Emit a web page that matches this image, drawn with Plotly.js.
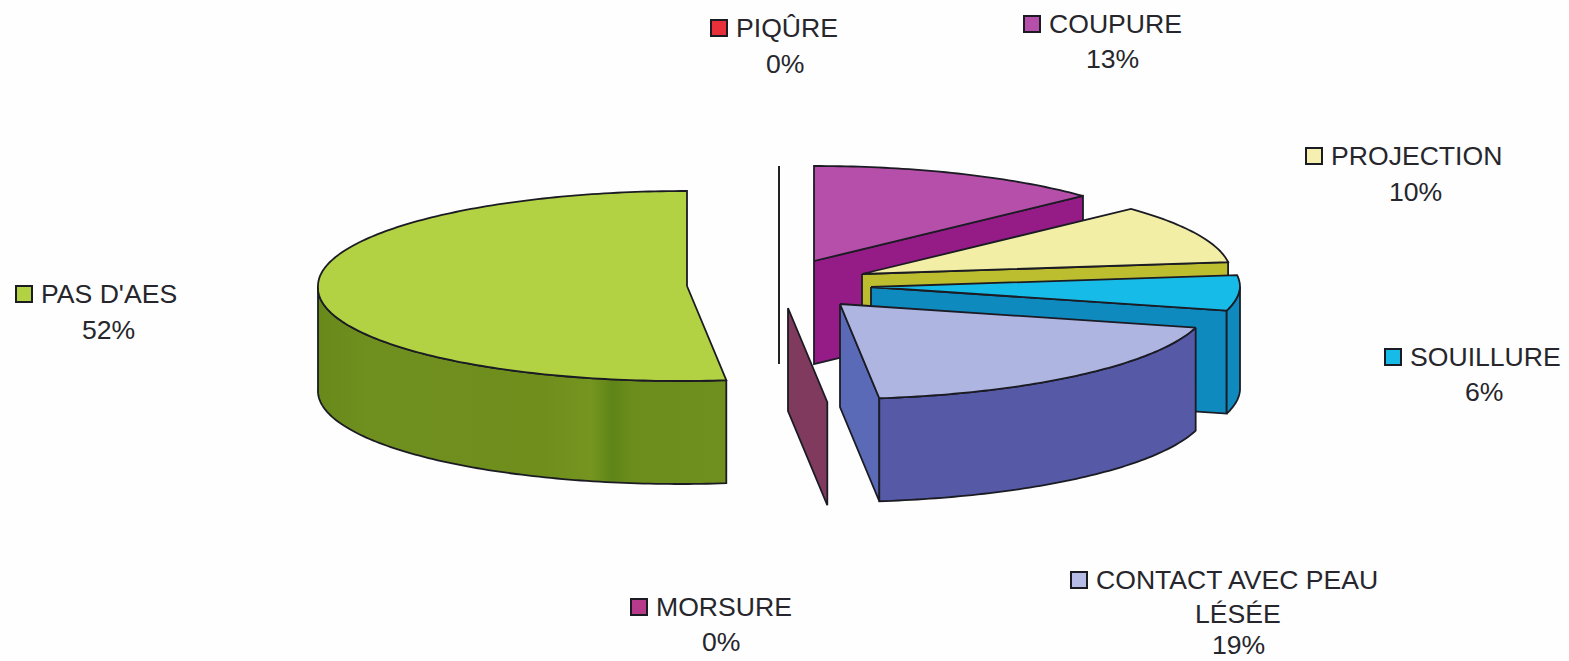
<!DOCTYPE html>
<html><head><meta charset="utf-8">
<script src="https://cdn.plot.ly/plotly-3.0.1.min.js"></script>
<style>html,body{margin:0;padding:0;background:#fff}#c{width:1569px;height:661px}</style></head>
<body><div id="c"></div>
<script>
// --- data ---
const categories = ["COUPURE","PROJECTION","SOUILLURE","CONTACT AVEC PEAU<br>LÉSÉE","MORSURE","PAS D'AES","PIQÛRE"];
const values = [13,10,6,19,0,52,0];

// --- styling / exploded 3D pie geometry ---
const topColors  = ["#b64fa9","#f3eea6","#17bbe8","#aeb5e1","#7f3a5e","#b2d244","#222222"];
const wallColors = ["#951b86","#bdbd30","#0e8abf","#565aa6","#7f3a5e","#6e8e1e","#222222"];
const cutColors  = ["#951b86","#bdbd30","#0e8abf","#5a6ab6","#7f3a5e","#6e8e1e","#222222"];
const keyColors  = ["#b64fa9","#f5f0b0","#17bbe8","#b6bce6","#b83a8a","#b2d244","#e8303a"];
const apexX = [814,862,871,840,788,687,779];
const apexY = [261,274,287,304,308,286,261];
const labelCx = [1112,1415,1484,1238,721,108,785];
const labelY  = [24,156,357,580,607,294,28];
const labelLeft = [1048,1330,1409,1095,655,40,735];
const valueY = [59,192,392,645,642,330,64];
const RX = 369, RY = 95, DEPTH = 103;
const OUTLINE = "#1b1b24";

// start/end angle of each slice from the values
let acc = 0;
const angles = values.map(v => { const a = acc; acc += v * 3.6; return [a, acc]; });

function pt(i, th, dz) {
  const r = th * Math.PI / 180;
  return [apexX[i] + RX * Math.sin(r) - 7 * Math.max(0, -Math.cos(r)), apexY[i] - RY * Math.cos(r) + (dz || 0)];
}
function arc(i, a, b, dz) {
  const out = [], n = Math.max(2, Math.ceil(Math.abs(b - a) / 1));
  for (let k = 0; k <= n; k++) out.push(pt(i, a + (b - a) * k / n, dz));
  return out;
}
function poly(points, color, extra) {
  const xs = points.map(p => p[0]).concat(points[0][0]);
  const ys = points.map(p => p[1]).concat(points[0][1]);
  return Object.assign({x: xs, y: ys, mode: "lines", fill: "toself", fillcolor: color,
    line: {color: OUTLINE, width: 1.8, shape: "linear", simplify: false}, hoverinfo: "skip", showlegend: false}, extra || {});
}
const apexP = (i, dz) => [apexX[i], apexY[i] + (dz || 0)];
function topFace(i) { return poly([apexP(i)].concat(arc(i, angles[i][0], angles[i][1])), topColors[i]); }
function cutWall(i, th) {
  return poly([apexP(i), pt(i, th), pt(i, th, DEPTH), apexP(i, DEPTH)], cutColors[i]);
}
function outerWall(i, a, b, extra) {
  return poly(arc(i, a, b).concat(arc(i, b, a, DEPTH)), wallColors[i], extra);
}

const iCou = 0, iPro = 1, iSou = 2, iCon = 3, iMor = 4, iPas = 5, iPiq = 6;
const traces = [];

// PAS D'AES
traces.push(outerWall(iPas, angles[iPas][0], 270, {fillgradient: {type: "horizontal", colorscale: [
  [0, "#688a1a"], [0.12, "#6f8f1f"], [0.55, "#6f8e1c"], [0.67, "#759520"], [0.72, "#5f8418"], [0.77, "#6c8d1c"], [1, "#6f8f1e"]]}}));
traces.push(topFace(iPas));

// PIQÛRE (0 %): a sliver seen edge on
traces.push({x: [pt(iPiq, angles[iPiq][0])[0], apexX[iPiq]], y: [pt(iPiq, angles[iPiq][0])[1], apexY[iPiq] + DEPTH],
  mode: "lines", line: {color: "#222222", width: 2}, hoverinfo: "skip", showlegend: false});

// MORSURE (0 %): just its cut face
traces.push(cutWall(iMor, angles[iMor][0]));

// COUPURE
traces.push(cutWall(iCou, angles[iCou][1]));
traces.push(topFace(iCou));
// PROJECTION
traces.push(cutWall(iPro, angles[iPro][1]));
traces.push(topFace(iPro));
// SOUILLURE
traces.push(cutWall(iSou, angles[iSou][1]));
traces.push(outerWall(iSou, 90, angles[iSou][1]));
traces.push(topFace(iSou));
// CONTACT
traces.push(cutWall(iCon, angles[iCon][1]));
traces.push(outerWall(iCon, angles[iCon][0], angles[iCon][1]));
traces.push(topFace(iCon));

// legend keys
traces.push({x: labelLeft.map(v => v - 16), y: labelY, mode: "markers",
  marker: {symbol: "square", size: 16, color: keyColors, line: {color: OUTLINE, width: 2}},
  hoverinfo: "skip", showlegend: false});

// labels
const font = {family: "Liberation Sans, Arial, sans-serif", size: 26.6, color: "#26262c"};
const annotations = [];
categories.forEach((c, i) => {
  const lines = c.split("<br>");
  lines.forEach((t, k) => {
    const y = labelY[i] + k * 34;
    const isFirst = k === 0;
    annotations.push({x: isFirst ? labelLeft[i] : labelCx[i], y, text: t, showarrow: false,
      xanchor: isFirst ? "left" : "center", yanchor: "middle", font, xref: "x", yref: "y", borderpad: 0});
  });
  annotations.push({x: labelCx[i], y: valueY[i], text: values[i] + "%", showarrow: false,
    xanchor: "center", yanchor: "middle", font, xref: "x", yref: "y", borderpad: 0});
});

const layout = {
  width: 1569, height: 661, margin: {l: 0, r: 0, t: 0, b: 0},
  paper_bgcolor: "#fefefe", plot_bgcolor: "#fefefe", showlegend: false,
  xaxis: {range: [0, 1569], visible: false, fixedrange: true},
  yaxis: {range: [661, 0], visible: false, fixedrange: true},
  annotations
};
Plotly.newPlot("c", traces, layout, {displayModeBar: false, staticPlot: true});
</script></body></html>
